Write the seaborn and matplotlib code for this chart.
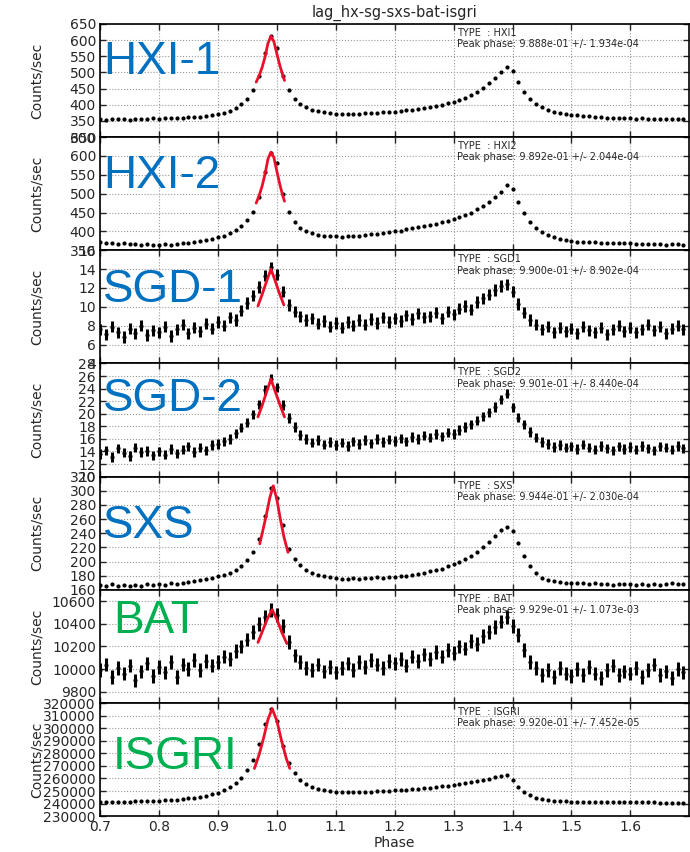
""" Stacked pulse profiles: lag_hx-sg-sxs-bat-isgri. """

import numpy as np
import pandas as pd
import seaborn as sns
import matplotlib.pyplot as plt
from matplotlib.ticker import MultipleLocator

# Phase bins, 0.01 wide, from 0.70 to 1.69
PHASE = np.round(np.arange(0.70, 1.695, 0.01), 2)

# Count rates per phase bin
HXI1 = [356, 354, 357, 355, 356, 353, 357, 355, 356, 358,
        357, 359, 358, 360, 359, 362, 361, 363, 365, 367,
        371, 375, 381, 389, 401, 418, 445, 490, 560, 612,
        575, 490, 445, 418, 402, 392, 385, 380, 376, 373,
        372, 371, 370, 371, 372, 373, 374, 375, 376, 378,
        379, 381, 383, 385, 387, 390, 393, 396, 400, 404,
        409, 415, 422, 430, 440, 452, 466, 482, 500, 518,
        505, 470, 440, 418, 402, 392, 384, 378, 374, 371,
        369, 367, 365, 364, 362, 361, 360, 360, 359, 358,
        358, 357, 358, 356, 357, 355, 357, 356, 355, 356]
HXI2 = [371, 369, 370, 367, 368, 366, 367, 365, 366, 364,
        365, 366, 364, 367, 368, 370, 372, 374, 377, 380,
        384, 389, 395, 403, 414, 430, 452, 492, 558, 608,
        580, 500, 452, 425, 410, 401, 395, 391, 389, 387,
        387, 386, 387, 388, 389, 390, 392, 394, 396, 398,
        400, 402, 405, 408, 411, 414, 417, 420, 424, 428,
        432, 437, 443, 450, 458, 467, 477, 490, 505, 522,
        512, 478, 448, 426, 410, 398, 390, 384, 380, 377,
        375, 373, 372, 371, 371, 370, 369, 369, 368, 368,
        368, 367, 367, 366, 367, 366, 365, 366, 366, 365]
SGD1 = [7.6, 7.1, 7.9, 7.3, 6.8, 7.7, 7.2, 8.0, 7.0, 7.5,
        7.3, 7.9, 6.9, 7.6, 8.1, 7.2, 7.8, 7.4, 8.2, 7.7,
        8.4, 8.0, 8.9, 8.6, 9.6, 10.4, 11.2, 12.1, 13.3, 14.2,
        13.4, 11.6, 10.2, 9.5, 9.0, 8.6, 8.8, 8.2, 8.5, 7.9,
        8.3, 7.8, 8.4, 8.0, 8.6, 8.1, 8.7, 8.3, 8.9, 8.4,
        8.8, 8.5, 9.1, 8.7, 9.3, 8.9, 9.0, 9.4, 8.8, 9.5,
        9.2, 9.8, 10.1, 9.7, 10.5, 10.9, 11.3, 11.8, 12.2, 12.4,
        11.6, 10.3, 9.4, 8.6, 8.1, 7.6, 7.9, 7.3, 7.8, 7.4,
        7.7, 7.2, 7.9, 7.5, 7.3, 7.8, 7.1, 7.6, 8.0, 7.4,
        7.8, 7.3, 7.6, 8.1, 7.5, 7.9, 7.2, 7.7, 8.0, 7.6]
SGD2 = [13.6, 14.2, 13.1, 14.5, 13.8, 13.3, 14.6, 13.9, 14.1, 13.4,
        14.0, 13.5, 14.4, 13.7, 14.3, 14.8, 13.9, 14.6, 14.2, 15.0,
        15.2, 15.6, 16.0, 16.9, 17.8, 18.6, 19.9, 21.5, 23.8, 25.6,
        24.2, 21.4, 19.3, 17.9, 16.6, 16.0, 15.4, 15.8, 15.1, 15.5,
        15.0, 15.4, 14.9, 15.6, 15.2, 15.8, 15.3, 16.0, 15.5, 15.9,
        15.7, 16.1, 15.6, 16.3, 16.0, 16.5, 16.2, 16.8, 16.4, 17.0,
        16.8, 17.4, 17.9, 18.3, 18.9, 19.6, 20.2, 21.1, 22.3, 23.2,
        21.0, 19.4, 18.3, 17.1, 16.2, 15.5, 15.2, 14.7, 15.0, 14.6,
        14.8, 14.4, 15.1, 14.6, 14.3, 14.9, 14.5, 14.2, 14.8, 14.4,
        14.7, 14.3, 14.9, 14.5, 14.2, 14.8, 14.6, 14.3, 14.9, 14.5]
SXS = [167, 166, 168, 166, 167, 165, 167, 166, 168, 167,
       168, 167, 169, 168, 170, 171, 172, 174, 175, 177,
       179, 181, 184, 188, 194, 202, 214, 232, 265, 304,
       290, 252, 218, 203, 195, 188, 184, 181, 179, 178,
       177, 176, 176, 177, 176, 177, 177, 178, 177, 178,
       178, 179, 180, 181, 182, 184, 186, 188, 190, 193,
       196, 199, 203, 208, 214, 221, 228, 236, 244, 249,
       243, 226, 208, 194, 184, 177, 174, 172, 171, 170,
       170, 169, 169, 168, 169, 168, 168, 167, 168, 168,
       168, 167, 168, 167, 168, 167, 168, 169, 168, 168]
BAT = [9990, 10040, 9930, 10010, 9960, 10030, 9900, 9980, 10050, 9940,
       10020, 9970, 10060, 9930, 10040, 10000, 10080, 9990, 10070, 10030,
       10060, 10110, 10090, 10160, 10200, 10260, 10330, 10400, 10460, 10520,
       10480, 10380, 10240, 10120, 10060, 10010, 9990, 10040, 9980, 10020,
       9970, 10010, 10050, 9990, 10060, 10020, 10080, 10040, 10010, 10070,
       10050, 10090, 10030, 10110, 10070, 10130, 10090, 10150, 10110, 10170,
       10140, 10200, 10180, 10250, 10220, 10290, 10330, 10370, 10420, 10460,
       10380, 10300, 10170, 10060, 10010, 9950, 9990, 9930, 10010, 9960,
       9940, 10000, 9950, 10020, 9960, 9920, 9990, 10030, 9950, 9980,
       9960, 10010, 9930, 9990, 10040, 9950, 9980, 9920, 10000, 9970]
ISGRI = [241500, 241400, 241600, 241500, 241700, 241600, 241800, 241900, 242000, 242200,
         242400, 242600, 242900, 243200, 243600, 244100, 244700, 245400, 246300, 247400,
         248800, 250600, 253000, 256200, 260500, 266500, 275000, 287500, 303500, 315500,
         306000, 285500, 272000, 264000, 259000, 255500, 253200, 251700, 250600, 249900,
         249400, 249200, 249100, 249100, 249200, 249300, 249500, 249700, 249900, 250200,
         250500, 250800, 251100, 251500, 251900, 252300, 252800, 253300, 253800, 254400,
         255000, 255700, 256400, 257200, 258000, 258900, 259900, 261000, 262200, 263000,
         259000, 253500, 249500, 246500, 244600, 243400, 242700, 242300, 242000, 241800,
         241700, 241600, 241500, 241400, 241400, 241300, 241300, 241200, 241200, 241200,
         241100, 241100, 241000, 241000, 241000, 240900, 240900, 240900, 240800, 240800]

# One error per instrument
ERRORS = [2.5, 2.5, 0.6, 0.75, 1.2, 60, 250]

# Peak fits (red) around phase 1.0
FIT_X_HXI1 = [0.965, 0.970, 0.975, 0.980, 0.985, 0.990, 0.995, 1.000, 1.005, 1.010, 1.013]
FIT_Y_HXI1 = [470, 490, 515, 548, 590, 612, 595, 558, 522, 492, 475]
FIT_X_HXI2 = [0.965, 0.970, 0.975, 0.980, 0.985, 0.990, 0.995, 1.000, 1.005, 1.010, 1.013]
FIT_Y_HXI2 = [475, 495, 520, 552, 592, 610, 596, 560, 525, 495, 480]
FIT_X_SGD1 = [0.968, 0.975, 0.982, 0.990, 0.997, 1.004, 1.012]
FIT_Y_SGD1 = [10.1, 11.3, 12.6, 14.0, 12.8, 11.5, 10.2]
FIT_X_SGD2 = [0.968, 0.975, 0.982, 0.990, 0.997, 1.005, 1.013]
FIT_Y_SGD2 = [19.5, 21.3, 23.3, 25.5, 23.6, 21.5, 19.5]
FIT_X_SXS = [0.971, 0.976, 0.982, 0.988, 0.994, 1.000, 1.006, 1.012, 1.019]
FIT_Y_SXS = [225, 243, 265, 290, 307, 288, 260, 235, 213]
FIT_X_BAT = [0.968, 0.976, 0.984, 0.992, 1.000, 1.008, 1.017]
FIT_Y_BAT = [10235, 10340, 10445, 10525, 10440, 10330, 10225]
FIT_X_ISGRI = [0.962, 0.970, 0.978, 0.985, 0.992, 1.000, 1.008, 1.016, 1.022]
FIT_Y_ISGRI = [268000, 279000, 293000, 307000, 315500, 306000, 290000, 276000, 268000]

LABELS = ["HXI-1", "HXI-2", "SGD-1", "SGD-2", "SXS", "BAT", "ISGRI"]
TYPES = ["HXI1", "HXI2", "SGD1", "SGD2", "SXS", "BAT", "ISGRI"]
PEAKS = ["9.888e-01 +/- 1.934e-04", "9.892e-01 +/- 2.044e-04",
         "9.900e-01 +/- 8.902e-04", "9.901e-01 +/- 8.440e-04",
         "9.944e-01 +/- 2.030e-04", "9.929e-01 +/- 1.073e-03",
         "9.920e-01 +/- 7.452e-05"]
YLIMS = [(300, 650), (350, 650), (4, 16), (10, 28), (160, 320), (9700, 10700), (230000, 320000)]
YSTEPS = [50, 50, 2, 2, 20, 200, 10000]


def main() -> None:
    """ Main function. """

    sns.set_style("whitegrid", {"grid.linestyle": ":", "grid.color": "0.6",
                                "axes.edgecolor": "black", "xtick.direction": "in",
                                "ytick.direction": "in"})
    plt.rcParams["font.family"] = ["DejaVu Sans"]

    rates = [HXI1, HXI2, SGD1, SGD2, SXS, BAT, ISGRI]
    fits = [(FIT_X_HXI1, FIT_Y_HXI1), (FIT_X_HXI2, FIT_Y_HXI2),
            (FIT_X_SGD1, FIT_Y_SGD1), (FIT_X_SGD2, FIT_Y_SGD2),
            (FIT_X_SXS, FIT_Y_SXS), (FIT_X_BAT, FIT_Y_BAT),
            (FIT_X_ISGRI, FIT_Y_ISGRI)]

    # Label colour and placement (axes fraction) of the big instrument names
    colours = ["#0070C0"] * 5 + ["#00B050"] * 2
    name_pos = [(0.005, 0.56), (0.005, 0.55), (0.005, 0.54), (0.005, 0.58),
                (0.005, 0.46), (0.022, 0.62), (0.022, 0.42)]
    # Noisy instruments get thicker bars
    bar_width = [1.2, 1.2, 2.2, 2.2, 1.2, 2.2, 1.2]

    fig, axes = plt.subplots(7, 1, figsize=(6.9, 8.52), dpi=100, sharex=True)
    fig.subplots_adjust(left=0.145, right=0.999, top=0.972, bottom=0.042, hspace=0)

    for i, ax in enumerate(axes):
        df = pd.DataFrame({"phase": PHASE, "rate": rates[i]})
        ax.errorbar(df["phase"], df["rate"], yerr=ERRORS[i], fmt=".", color="black",
                    markersize=4, elinewidth=bar_width[i], capsize=0, zorder=3)
        fit = pd.DataFrame({"phase": fits[i][0], "rate": fits[i][1]})
        sns.lineplot(data=fit, x="phase", y="rate", color="#e8102a", lw=2,
                     ax=ax, zorder=4)

        ax.set_xlim(0.7, 1.7)
        ax.set_ylim(*YLIMS[i])
        ax.yaxis.set_major_locator(MultipleLocator(YSTEPS[i]))
        ax.ticklabel_format(axis="y", style="plain", useOffset=False)
        ax.tick_params(axis="both", labelsize=10, length=4, width=1, pad=3,
                       top=True, right=True, left=True, bottom=True)
        ax.set_ylabel("Counts/sec", fontsize=10)
        ax.yaxis.set_label_coords(-0.095, 0.5)
        ax.set_xlabel("")
        for spine in ax.spines.values():
            spine.set_linewidth(1.2)

        ax.text(0.605, 0.92, "TYPE  : " + TYPES[i], transform=ax.transAxes,
                fontsize=7, va="center", ha="left")
        ax.text(0.605, 0.82, "Peak phase: " + PEAKS[i], transform=ax.transAxes,
                fontsize=7, va="center", ha="left")
        ax.text(name_pos[i][0], name_pos[i][1], LABELS[i], transform=ax.transAxes,
                fontsize=33, color=colours[i], family="Liberation Sans",
                va="baseline", ha="left", zorder=5)

    axes[-1].set_xticks([0.7, 0.8, 0.9, 1.0, 1.1, 1.2, 1.3, 1.4, 1.5, 1.6])
    axes[-1].set_xlabel("Phase", fontsize=10, labelpad=1)
    axes[0].set_title("lag_hx-sg-sxs-bat-isgri", fontsize=10.5, pad=5)

    plt.savefig("out.png", dpi=100)


if __name__ == "__main__":
    main()
